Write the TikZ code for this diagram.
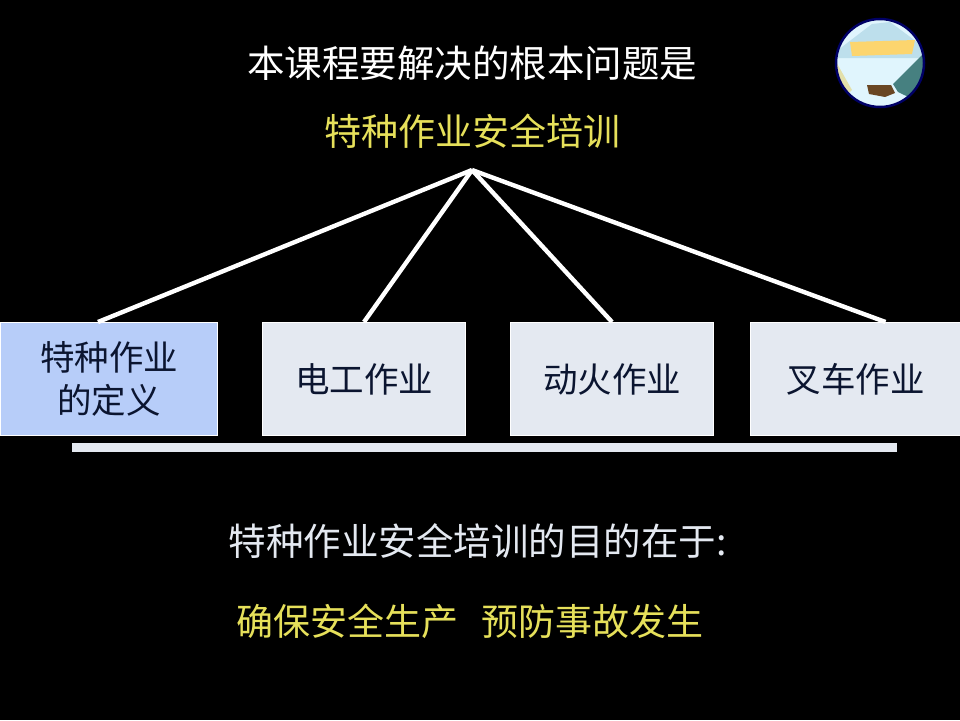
\documentclass[tikz,border=0pt]{standalone}
\usepackage{xcolor}
\usepackage{fontspec}
\setmainfont{Noto Sans CJK SC}
\usepackage{tikz}
\usetikzlibrary{positioning, calc}

\definecolor{boxgray}{HTML}{E4E9F1}
\definecolor{boxblue}{HTML}{B7CDF9}
\definecolor{inkdark}{HTML}{0B1530}
\definecolor{titleyellow}{HTML}{E6E05A}

\begin{document}
\begin{tikzpicture}[
  x=1pt, y=-1pt,
  box/.style={rectangle, fill=boxgray, draw=white, line width=1pt, minimum height=113pt, align=center, text=inkdark, inner sep=0pt, font=\fontsize{34.5}{43}\selectfont},
  line/.style={draw=white, line width=4.4pt},
  heading/.style={text=white, inner sep=0pt, font=\fontsize{37.5}{40}\selectfont},
  goal/.style={text=titleyellow, inner sep=0pt, font=\fontsize{37}{40}\selectfont}
]
  \fill[black] (0,0) rectangle (960,720);
  \useasboundingbox (0,0) rectangle (960,720);

  \node[heading] (title) at (472,63) {本课程要解决的根本问题是};
  \node[goal] (topic) at (472,131) {特种作业安全培训};
  \coordinate (apex) at (472,170);

  \node[box, fill=boxblue, minimum width=217pt] (defn) at (109,379) {特种作业\\的定义};
  \node[box, minimum width=203pt, right=44pt of defn] (elec) {电工作业};
  \node[box, minimum width=203pt, right=44pt of elec] (fire) {动火作业};
  \node[box, minimum width=210pt, right=36pt of fire] (fork) {叉车作业};

  \draw[line] (apex) -- ([xshift=-11pt]defn.north);
  \draw[line] (apex) -- (elec.north);
  \draw[line] (apex) -- (fire.north);
  \draw[line] (apex) -- ([xshift=30pt]fork.north);

  \node[rectangle, fill=boxgray, minimum width=825pt, minimum height=9pt, inner sep=0pt] (bar) at (484.5,447.5) {};

  \node[heading, text=boxgray] (aim) at (477.5,541) {特种作业安全培训的目的在于:};
  \node[goal] (safe) at (470,621) {确保安全生产\hspace{24pt}预防事故发生};

  % logo
  \begin{scope}
    \clip (880,63) circle (44);
    \fill[white!88!cyan] (830,15) rectangle (930,115);
    \fill[gray!40!cyan!35!white] (838,50) -- (872,24) -- (890,22) -- (925,48) -- (925,58) -- (838,58) -- cycle;
    \fill[yellow!45!orange!55!white] (850,42) -- (915,40) -- (912,54) -- (852,56) -- cycle;
    \fill[teal!45!gray] (925,52) -- (893,84) -- (898,92) -- (925,105) -- cycle;
    \fill[olive!25!white] (835,60) -- (852,90) -- (835,105) -- cycle;
    \fill[brown!55!black] (867,85) -- (891,85) -- (895,93) -- (885,97) -- (869,94) -- cycle;
  \end{scope}
  \draw[blue!40!black, line width=2.5pt] (880,63) circle (44);
\end{tikzpicture}
\end{document}
